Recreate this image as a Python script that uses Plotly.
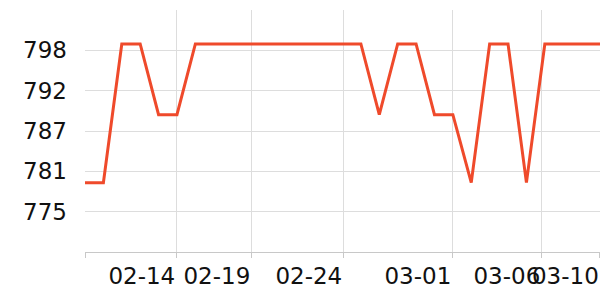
import plotly.graph_objects as go

# data
sample_index = list(range(29))
values = [779.3, 779.3, 798.9, 798.9, 788.9, 788.9,
          798.9, 798.9, 798.9, 798.9, 798.9, 798.9, 798.9, 798.9, 798.9, 798.9,
          788.9, 798.9, 798.9, 788.9, 788.9, 779.3, 798.9, 798.9, 779.3,
          798.9, 798.9, 798.9, 798.9]
x_tick_pos = [0, 4.96, 9.04, 14.04, 19.97, 24.81, 27.99]
x_tick_labels = ["", "02-14", "02-19", "02-24", "03-01", "03-06", "03-10"]
y_tick_pos = [775.2, 780.9, 786.6, 792.3, 798.0]
y_tick_labels = ["775", "781", "787", "792", "798"]

fig = go.Figure()
fig.add_trace(go.Scatter(
    x=sample_index, y=values, mode="lines",
    line=dict(color="#ef4a2b", width=3),
    hoverinfo="skip", showlegend=False, cliponaxis=False,
))

fig.update_layout(
    width=600, height=300,
    margin=dict(l=85, r=0, t=10, b=48),
    paper_bgcolor="white", plot_bgcolor="white",
    font=dict(family="DejaVu Sans", size=23, color="#111"),
)
fig.update_xaxes(
    type="linear", range=[0, 28],
    tickmode="array", tickvals=x_tick_pos, ticktext=x_tick_labels,
    ticklabelposition="outside left", tickangle=0, ticklabelstandoff=3,
    showgrid=True, gridcolor="#dddddd", gridwidth=1,
    showline=True, linecolor="#c8c8c8", linewidth=1,
    ticks="outside", ticklen=5, tickcolor="#c8c8c8",
    zeroline=False, ticklabeloverflow="allow",
)
fig.update_yaxes(
    range=[769.5, 803.7],
    tickmode="array", tickvals=y_tick_pos, ticktext=y_tick_labels,
    showgrid=True, gridcolor="#dddddd", gridwidth=1,
    showline=False, ticks="", ticklabelstandoff=17,
    zeroline=False,
)

fig.write_html("out.html")
